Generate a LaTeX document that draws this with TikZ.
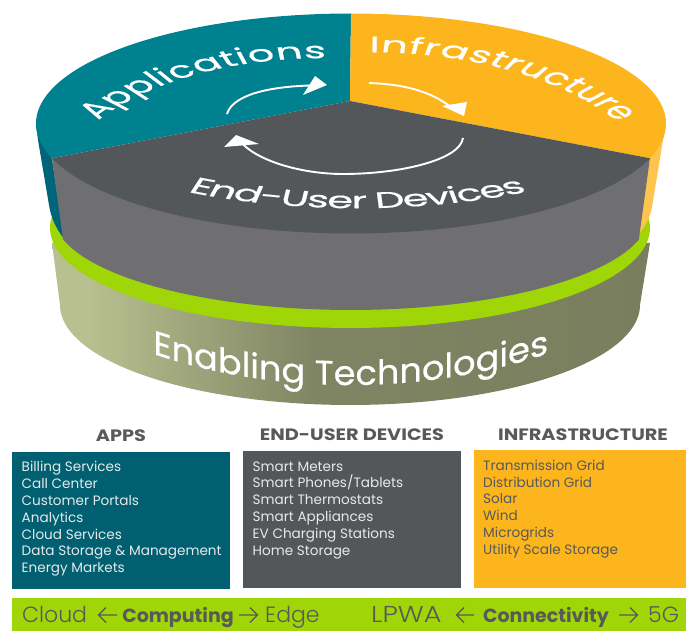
\documentclass[tikz,border=0pt]{standalone}
\usepackage{fontspec}
\setmainfont{Poppins}
\newfontfamily\headfont[FakeStretch=1.17]{Poppins}
\newfontfamily\lightfont{Poppins Light}
\newfontfamily\ringfont[FakeBold=0.5]{Poppins}
\definecolor{tealtop}{HTML}{008190}
\definecolor{tealside}{HTML}{00647A}
\definecolor{tealbox}{HTML}{005F71}
\definecolor{orangetop}{HTML}{FDB51D}
\definecolor{orangeside}{HTML}{FFC44D}
\definecolor{greytop}{HTML}{54575A}
\definecolor{greyside}{HTML}{6F6F71}
\definecolor{limeband}{HTML}{A0D507}
\definecolor{inktext}{HTML}{58595B}
\definecolor{palebox}{HTML}{E4EAEA}
\pgfdeclarehorizontalshading{oliveband}{100bp}{rgb(0bp)=(0.725,0.753,0.561);rgb(28bp)=(0.725,0.753,0.561);rgb(47bp)=(0.498,0.518,0.388);rgb(75bp)=(0.475,0.494,0.369);rgb(100bp)=(0.475,0.494,0.369)}
\tikzset{
  headtext/.style={font=\fontsize{16.5}{18}\headfont\bfseries,text=inktext,inner sep=0pt,anchor=base},
  itemtext/.style={font=\fontsize{13.6}{15}\selectfont,inner sep=0pt,anchor=base west},
  striptext/.style={font=\fontsize{22}{24}\lightfont,text=inktext,inner sep=0pt,anchor=base west},
  stripbold/.style={font=\fontsize{19}{24}\selectfont\bfseries,text=inktext,inner sep=0pt,anchor=base},
  striparrow/.style={draw=inktext,line width=1.4pt},
  whitearc/.style={draw=white,line width=1.9pt},
  glyphtext/.style={inner sep=0pt,anchor=base,text=white,transform shape},
}
\newcounter{ltrno}
\newlength{\glyphw}
\newcommand{\measureglyph}[2]{%
  \pgfinterruptpicture
    \setbox0=\hbox{\fontsize{#1}{36}\ringfont #2}%
    \global\glyphw=\wd0\relax
  \endpgfinterruptpicture
}
% Letters lying on the disc plane: baseline ellipse centre (\rcx,\rcy), radius \rR, plane-to-screen scales \rSx,\rSy
\newcommand{\ringword}[1]{%
  \foreach \ch in {#1} {%
    \measureglyph{30}{\ch}%
    \pgfmathsetmacro{\wpt}{\glyphw/1pt}%
    \pgfmathsetmacro{\pmid}{\curphi+\rdir*0.5*\wpt/\rR*57.2958}%
    \pgfmathsetmacro{\ax}{-\rdir*\rSx*sin(\pmid)}%
    \pgfmathsetmacro{\ay}{\rdir*\rSy*cos(\pmid)}%
    \pgfmathsetmacro{\bx}{-\rdir*\rSx*cos(\pmid)}%
    \pgfmathsetmacro{\by}{-\rdir*\rSy*sin(\pmid)}%
    \pgfmathsetmacro{\px}{\rcx+\rR*\rSx*cos(\pmid)}%
    \pgfmathsetmacro{\py}{-\rcy+\rR*\rSy*sin(\pmid)}%
    \begin{scope}
      \pgftransformcm{\ax}{\ay}{\bx}{\by}{\pgfpoint{\px pt}{\py pt}}
      \stepcounter{ltrno}%
      \node[glyphtext,font=\fontsize{30}{36}\ringfont] (ltr\arabic{ltrno}) at (0,0) {\ch};
    \end{scope}
    \pgfmathsetmacro{\nx}{\curphi+\rdir*(\wpt+\rgap)/\rR*57.2958}%
    \xdef\curphi{\nx}%
  }%
}
% Letters on the curved wall: stems upright, baseline following an ellipse, sheared to its slope
\newcommand{\wallword}[1]{%
  \foreach \ch in {#1} {%
    \measureglyph{34}{\ch}%
    \pgfmathsetmacro{\wpt}{\glyphw/1pt*\whs}%
    \pgfmathsetmacro{\midx}{\curx+0.5*\wpt}%
    \pgfmathsetmacro{\uu}{(\midx-\wcx)/\wrx}%
    \pgfmathsetmacro{\sq}{sqrt(1-\uu*\uu)}%
    \pgfmathsetmacro{\py}{-(\wcy+\wry*\sq)}%
    \pgfmathsetmacro{\slope}{\wry/\wrx*\uu/\sq}%
    \pgfmathsetmacro{\ay}{\whs*\slope}%
    \begin{scope}
      \pgftransformcm{\whs}{\ay}{0}{1}{\pgfpoint{\midx pt}{\py pt}}
      \stepcounter{ltrno}%
      \node[glyphtext,font=\fontsize{34}{40}\ringfont] (ltr\arabic{ltrno}) at (0,0) {\ch};
    \end{scope}
    \pgfmathsetmacro{\nx}{\curx+\wpt+\wgap}%
    \xdef\curx{\nx}%
  }%
}
\begin{document}
\begin{tikzpicture}[x=1pt,y=-1pt]
\useasboundingbox (0,0) rectangle (686,631);
% olive body
\path[shading=oliveband] (52,243) -- (60,305) -- plot[domain=180:0,samples=90] ({350+290*cos(\x)},{305+100*sin(\x)}) -- (650,243) -- cycle;
% lime disc
\fill[limeband] plot[domain=0:360,samples=180] ({350+300*cos(\x)},{228+100*sin(\x)}) -- cycle;
% side faces
\fill[tealside] (36,125) -- (38,140) -- (49,205) .. controls (51,218) and (56,228) .. (64,239) -- (52,159) -- cycle;
\fill[orangeside] (666,125) -- (663,140) -- (652,207) .. controls (650,218) and (645,226) .. (638,236) -- (650,158) -- cycle;
\fill[greyside] (52,159) -- (63,239) -- plot[domain=165:15,samples=90] ({351+298*cos(\x)},{215+95*sin(\x)}) -- (650,158) -- cycle;
% top sectors
\fill[tealtop] (350,101) -- plot[domain=161.6:270,samples=80] ({351+315*cos(\x)},{123.5+110*sin(\x)}) -- cycle;
\fill[orangetop] (350,101) -- plot[domain=-90:18.4,samples=80] ({351+315*cos(\x)},{123.5+110*sin(\x)}) -- cycle;
\fill[greytop] (350,101) -- plot[domain=18.4:161.6,samples=100] ({351+315*cos(\x)},{123.5+110*sin(\x)}) -- cycle;
% curved labels
\def\rSx{1.4}\def\rSy{0.75}
\def\rgap{0.3}\def\rdir{-1}\def\rcx{320}\def\rcy{203}\def\rR{193}\xdef\curphi{145}
\ringword{A,p,p,l,i,c,a,t,i,o,n,s}
\def\rgap{0.4}\def\rdir{-1}\def\rcx{372}\def\rcy{212}\def\rR{213}\xdef\curphi{90.5}
\ringword{I,n,f,r,a,s,t,r,u,c,t,u,r,e}
\def\rgap{-0.9}\def\rdir{1}\def\rcx{357}\def\rcy{-52}\def\rR{347}\xdef\curphi{249.6}
\ringword{E,n,d,-,U,s,e,r,~,D,e,v,i,c,e,s}
\def\wcx{350}\def\wcy{154}\def\wrx{392}\def\wry{231}\def\whs{1.035}\def\wgap{0}\xdef\curx{153.5}
\wallword{E,n,a,b,l,i,n,g,~,T,e,c,h,n,o,l,o,g,i,e,s}
% white arrows
\draw[whitearc] (227,114) .. controls (232,97) and (262,87) .. (310,85.5);
\fill[white] (327,85) -- (315,76) -- (303,95) -- cycle;
\draw[whitearc] (369,83) .. controls (400,84) and (430,90) .. (452,108);
\fill[white] (464,116) -- (467,102) -- (442,106) -- cycle;
\draw[whitearc] (463,138) .. controls (460,160) and (400,174) .. (343,174) .. controls (300,174) and (255,160) .. (240,141);
\fill[white] (224,147) -- (236,135) -- (259,144) -- cycle;
% headings
\node[headtext] (h1) at (121,441.7) {APPS};
\node[headtext] (h2) at (352,440.7) {END-USER DEVICES};
\node[headtext] (h3) at (583,440.7) {INFRASTRUCTURE};
% boxes
\fill[tealbox] (12,452) rectangle (230,589);
\fill[greytop] (243,451) rectangle (461,588);
\fill[orangetop] (474,450) rectangle (686,588);
\fill[limeband] (12,598) rectangle (686,631);
% items
\begin{scope}[every node/.style={itemtext,text=palebox}]
\node (a1) at (21.5,471) {Billing Services};
\node (a2) at (21.5,488.3) {Call Center};
\node (a3) at (21.5,505.3) {Customer Portals};
\node (a4) at (21.5,522.3) {Analytics};
\node (a5) at (21.5,539.3) {Cloud Services};
\node (a6) at (21.5,555.7) {Data Storage \& Management};
\node (a7) at (21.5,572.3) {Energy Markets};
\node (d1) at (252.5,471) {Smart Meters};
\node (d2) at (252.5,487.3) {Smart Phones/Tablets};
\node (d3) at (252.5,504.3) {Smart Thermostats};
\node (d4) at (252.5,521.3) {Smart Appliances};
\node (d5) at (252.5,538.3) {EV Charging Stations};
\node (d6) at (252.5,555.3) {Home Storage};
\end{scope}
\begin{scope}[every node/.style={itemtext,text=inktext}]
\node (i1) at (483,470) {Transmission Grid};
\node (i2) at (483,487.3) {Distribution Grid};
\node (i3) at (483,503.3) {Solar};
\node (i4) at (483,520.3) {Wind};
\node (i5) at (483,537.3) {Microgrids};
\node (i6) at (483,554.3) {Utility Scale Storage};
\end{scope}
% strip
\node[striptext] (s1) at (22,622.5) {Cloud};
\node[stripbold] (s2) at (178,622) {Computing};
\node[striptext] (s3) at (265,622.5) {Edge};
\node[striptext] (s4) at (371,622.5) {\fontsize{23}{24}\selectfont\scalebox{1.18}[1]{LPWA}};
\node[stripbold] (s5) at (546,622) {Connectivity};
\node[striptext] (s6) at (648,622.5) {5G};
\draw[striparrow] (117,615) -- (99,615) (106,607.5) -- (98.5,615) -- (106,622.5);
\draw[striparrow] (239,615) -- (257,615) (250,607.5) -- (257.5,615) -- (250,622.5);
\draw[striparrow] (474,615) -- (457,615) (464,607.5) -- (456.5,615) -- (464,622.5);
\draw[striparrow] (619,615) -- (637,615) (630,607.5) -- (637.5,615) -- (630,622.5);
\end{tikzpicture}
\end{document}
